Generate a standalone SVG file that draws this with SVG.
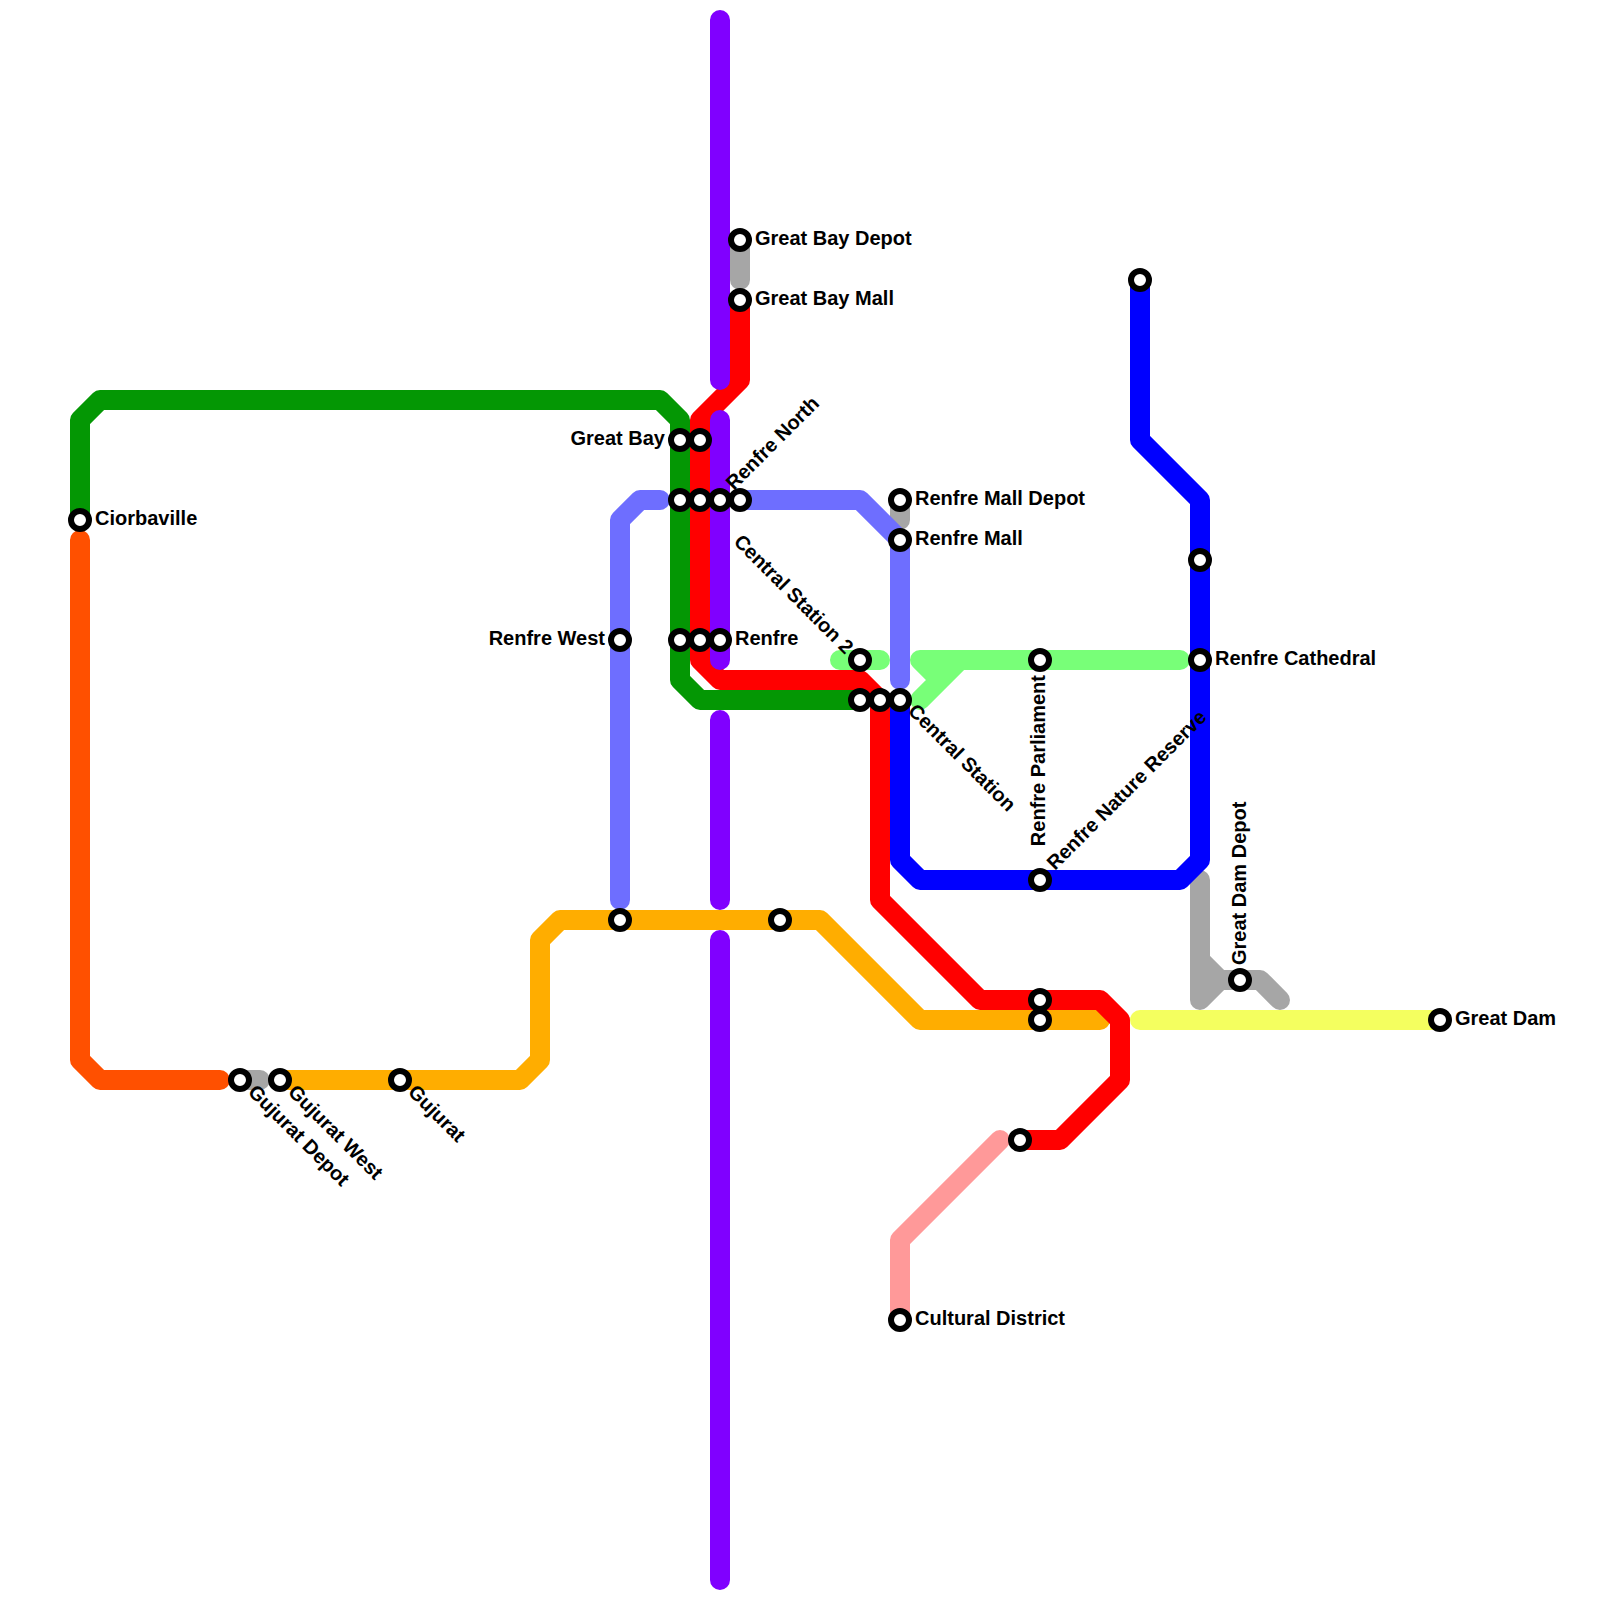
<svg xmlns="http://www.w3.org/2000/svg" width="1600" height="1600" viewBox="0 0 1600 1600">
<style>
.l{fill:none;stroke-width:20;stroke-linecap:round;stroke-linejoin:round}
.s{fill:#fff;stroke:#000;stroke-width:6}
text{font-family:"Liberation Sans",Arial,sans-serif;font-size:20px;font-weight:bold;fill:#000}
</style>
<rect width="1600" height="1600" fill="#fff"/>
<g id="connectors">
<path class="l" stroke="#a6a6a6" d="M240 1080H260M740 240V280M900 500V520M1200 880V1000L1220 980H1260L1280 1000M1200 960L1220 980"/>
<path class="l" stroke="#ffad00" d="M280 1080H520L540 1060V940L560 920H820L920 1020H1100"/>
<path class="l" stroke="#ff5000" d="M80 540V1060L100 1080H220"/>
<path class="l" stroke="#049704" d="M80 520V420L100 400H660L680 420V680L700 700H860"/>
<path class="l" stroke="#ff0000" d="M740 300V380L700 420V660L720 680H860L880 700V900L980 1000H1100L1120 1020V1080L1060 1140H1020"/>
<path class="l" stroke="#8000ff" d="M720 20V380M720 420V660M720 720V900M720 940V1580"/>
<path class="l" stroke="#78ff78" d="M840 660H880M1180 660H920L940 680L920 700M940 680L960 660"/>
<path class="l" stroke="#0000ff" d="M1140 280V440L1200 500V860L1180 880H920L900 860V700"/>
<path class="l" stroke="#6e6eff" d="M620 900V520L640 500H660M740 500H860L900 540V680"/>
<path class="l" stroke="#f4ff5f" d="M1140 1020H1440"/>
<path class="l" stroke="#ff9999" d="M1000 1140L900 1240V1320"/>
</g>
<g id="n1"><circle class="s" cx="80" cy="520" r="9"/><text x="95" y="525">Ciorbaville</text></g>
<g id="n2"><circle class="s" cx="240" cy="1080" r="9"/><text transform="translate(247 1093) rotate(45)">Gujurat Depot</text></g>
<g id="n3"><circle class="s" cx="280" cy="1080" r="9"/><text transform="translate(287 1093) rotate(45)">Gujurat West</text></g>
<g id="n4"><circle class="s" cx="400" cy="1080" r="9"/><text transform="translate(407 1093) rotate(45)">Gujurat</text></g>
<g id="n5"><circle class="s" cx="620" cy="640" r="9"/><text x="605" y="645" text-anchor="end">Renfre West</text></g>
<g id="n6"><circle class="s" cx="620" cy="920" r="9"/></g>
<g id="n7"><circle class="s" cx="680" cy="440" r="9"/><text x="665" y="445" text-anchor="end">Great Bay</text></g>
<g id="n8"><circle class="s" cx="700" cy="440" r="9"/></g>
<g id="n9"><circle class="s" cx="680" cy="500" r="9"/></g>
<g id="n10"><circle class="s" cx="700" cy="500" r="9"/></g>
<g id="n11"><circle class="s" cx="720" cy="500" r="9"/></g>
<g id="n12"><circle class="s" cx="740" cy="500" r="9"/><text transform="translate(734 491) rotate(-45)">Renfre North</text></g>
<g id="n13"><circle class="s" cx="680" cy="640" r="9"/></g>
<g id="n14"><circle class="s" cx="700" cy="640" r="9"/></g>
<g id="n15"><circle class="s" cx="720" cy="640" r="9"/><text x="735" y="645">Renfre</text></g>
<g id="n16"><circle class="s" cx="740" cy="240" r="9"/><text x="755" y="245">Great Bay Depot</text></g>
<g id="n17"><circle class="s" cx="740" cy="300" r="9"/><text x="755" y="305">Great Bay Mall</text></g>
<g id="n18"><circle class="s" cx="780" cy="920" r="9"/></g>
<g id="n19"><circle class="s" cx="860" cy="660" r="9"/><text transform="translate(845 655) rotate(45)" text-anchor="end">Central Station 2</text></g>
<g id="n20"><circle class="s" cx="860" cy="700" r="9"/></g>
<g id="n21"><circle class="s" cx="880" cy="700" r="9"/></g>
<g id="n22"><circle class="s" cx="900" cy="700" r="9"/><text transform="translate(907 712) rotate(45)">Central Station</text></g>
<g id="n23"><circle class="s" cx="900" cy="500" r="9"/><text x="915" y="505">Renfre Mall Depot</text></g>
<g id="n24"><circle class="s" cx="900" cy="540" r="9"/><text x="915" y="545">Renfre Mall</text></g>
<g id="n25"><circle class="s" cx="1040" cy="660" r="9"/><text transform="translate(1045 675) rotate(-90)" text-anchor="end">Renfre Parliament</text></g>
<g id="n26"><circle class="s" cx="1040" cy="880" r="9"/><text transform="translate(1055 871) rotate(-45)">Renfre Nature Reserve</text></g>
<g id="n27"><circle class="s" cx="1040" cy="1000" r="9"/></g>
<g id="n28"><circle class="s" cx="1040" cy="1020" r="9"/></g>
<g id="n29"><circle class="s" cx="1020" cy="1140" r="9"/></g>
<g id="n30"><circle class="s" cx="900" cy="1320" r="9"/><text x="915" y="1325">Cultural District</text></g>
<g id="n31"><circle class="s" cx="1140" cy="280" r="9"/></g>
<g id="n32"><circle class="s" cx="1200" cy="560" r="9"/></g>
<g id="n33"><circle class="s" cx="1200" cy="660" r="9"/><text x="1215" y="665">Renfre Cathedral</text></g>
<g id="n34"><circle class="s" cx="1240" cy="980" r="9"/><text transform="translate(1246 965) rotate(-90)">Great Dam Depot</text></g>
<g id="n35"><circle class="s" cx="1440" cy="1020" r="9"/><text x="1455" y="1025">Great Dam</text></g>
</svg>
